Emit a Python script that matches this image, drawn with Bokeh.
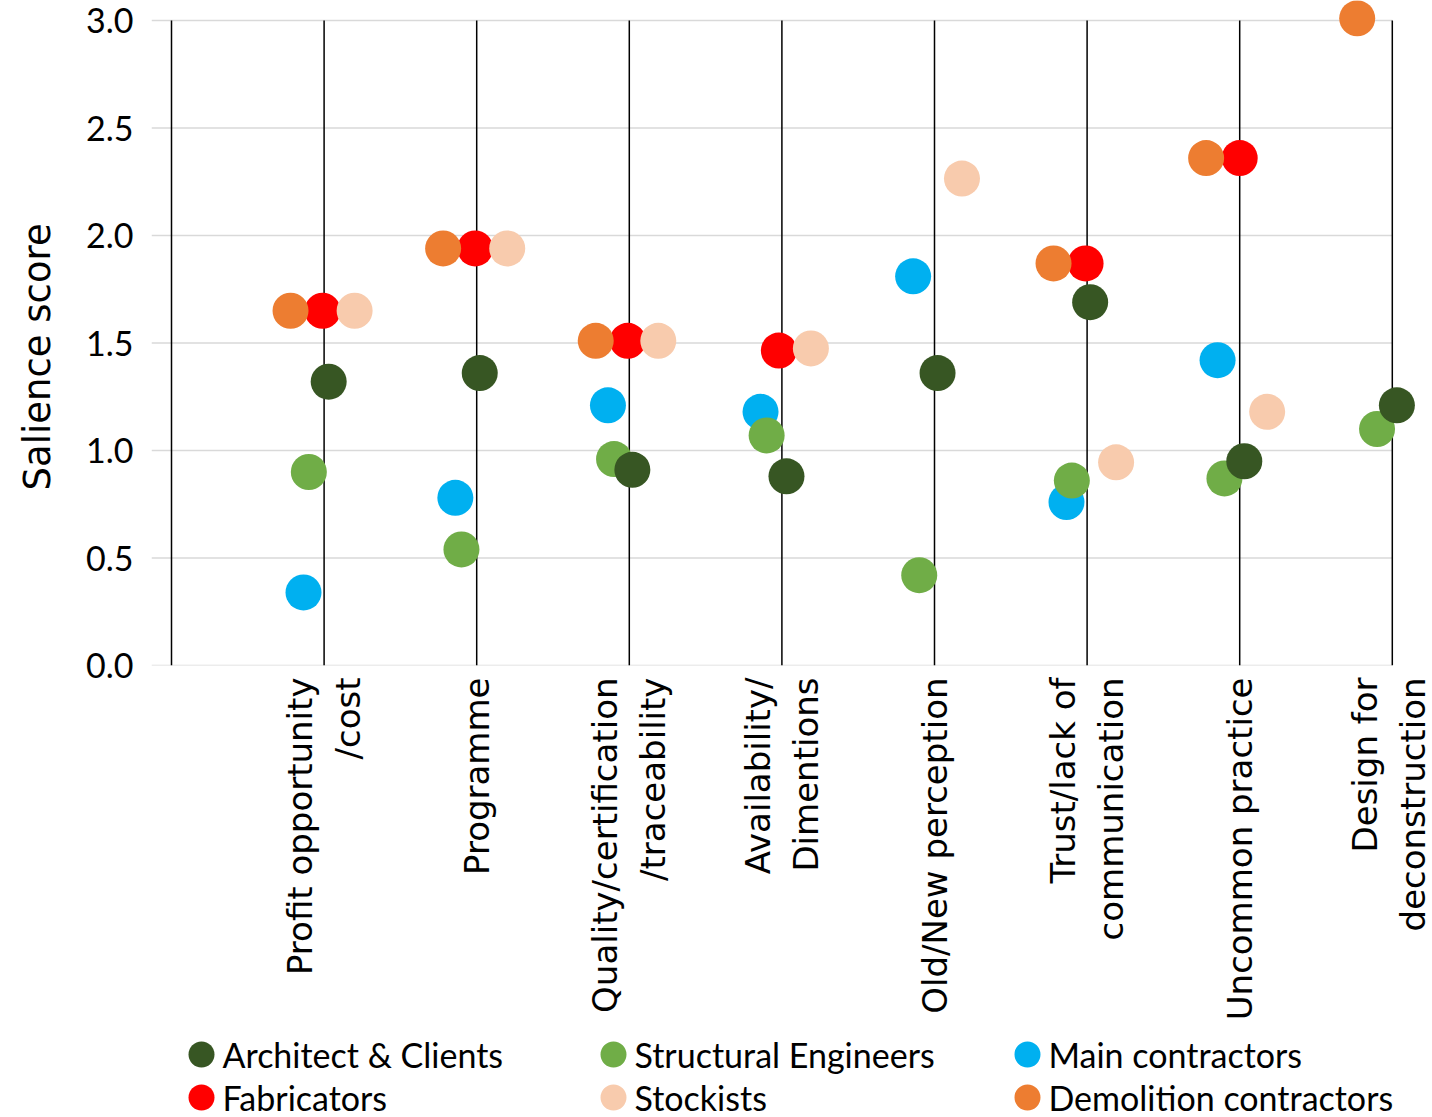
import math
from bokeh.plotting import figure
from bokeh.models import Range1d, FixedTicker, NumeralTickFormatter, ColumnDataSource
from bokeh.layouts import column, row
from bokeh.core.properties import value
from bokeh.embed import file_html
from bokeh.resources import INLINE

# ---------------- data ----------------
categories = [
    "Profit opportunity\n/cost",
    "Programme",
    "Quality/certification\n/traceability",
    "Availability/\nDimentions",
    "Old/New perception",
    "Trust/lack of\ncommunication",
    "Uncommon practice",
    "Design for\ndeconstruction",
]
category_pos = [1, 2, 3, 4, 5, 6, 7, 8]
divider_pos = [0, 1, 2, 3, 4, 5, 6, 7, 8]
y_ticks = [0.0, 0.5, 1.0, 1.5, 2.0, 2.5, 3.0]
y_title = "Salience score"

series_names = ["Architect & Clients", "Structural Engineers", "Main contractors",
                "Fabricators", "Stockists", "Demolition contractors"]
series_colors = ["#375623", "#70AD47", "#00B0F0", "#FF0000", "#F8CBAD", "#ED7D31"]

architect_x = [1.03, 2.02, 3.02, 4.03, 5.02, 6.02, 7.03, 8.03]
architect_y = [1.32, 1.36, 0.91, 0.88, 1.36, 1.69, 0.95, 1.21]
structural_x = [0.90, 1.90, 2.90, 3.90, 4.90, 5.90, 6.90, 7.90]
structural_y = [0.90, 0.54, 0.96, 1.07, 0.42, 0.86, 0.87, 1.10]
main_x = [0.865, 1.86, 2.86, 3.86, 4.86, 5.865, 6.855]
main_y = [0.34, 0.78, 1.21, 1.18, 1.81, 0.76, 1.42]
fabricators_x = [0.99, 1.99, 2.99, 3.98, 5.99, 7.00]
fabricators_y = [1.65, 1.94, 1.51, 1.465, 1.87, 2.36]
stockists_x = [1.20, 2.20, 3.19, 4.19, 5.18, 6.19, 7.18]
stockists_y = [1.65, 1.94, 1.51, 1.475, 2.265, 0.945, 1.18]
demolition_x = [0.78, 1.78, 2.78, 5.78, 6.78, 7.77]
demolition_y = [1.65, 1.94, 1.51, 1.87, 2.36, 3.01]

series_x = [architect_x, structural_x, main_x, fabricators_x, stockists_x, demolition_x]
series_y = [architect_y, structural_y, main_y, fabricators_y, stockists_y, demolition_y]
draw_order = [3, 2, 1, 0, 4, 5]

# ---------------- geometry ----------------
px_per_unit = 152.6
title_w = 68
frame_left = 151
frame_w = 1271
frame_h = 665
bottom_h = 365
right_border = 1432 - frame_left - frame_w
x_start = -20 / px_per_unit
x_end = x_start + frame_w / px_per_unit
y_end = 3.0 + 20 / 215.0

# ---------------- title strip (left) ----------------
tf = figure(frame_width=title_w, frame_height=frame_h,
            x_range=Range1d(0, title_w), y_range=Range1d(0, frame_h),
            output_backend="svg", toolbar_location=None,
            min_border_left=0, min_border_right=0, min_border_top=0,
            min_border_bottom=bottom_h)
tf.axis.visible = False
tf.grid.visible = False
tf.outline_line_color = None
tf.text(x=[37], y=[175], text=[y_title], angle=math.pi / 2,
        text_align="left", text_baseline="middle",
        text_font=value("DejaVu Sans"), text_font_size="37px", text_color="black")

# ---------------- main plot ----------------
p = figure(frame_width=frame_w, frame_height=frame_h,
           x_range=Range1d(x_start, x_end), y_range=Range1d(0, y_end),
           output_backend="svg", toolbar_location=None,
           min_border_left=frame_left - title_w, min_border_right=right_border,
           min_border_top=0, min_border_bottom=bottom_h)
p.outline_line_color = None
p.xgrid.visible = False
p.ygrid.visible = False
p.background_fill_color = "white"
p.border_fill_color = "white"

# horizontal grid lines (from tick list) limited to the last divider
p.segment(x0=[x_start] * len(y_ticks), x1=[divider_pos[-1]] * len(y_ticks),
          y0=y_ticks, y1=y_ticks, line_color="#D9D9D9", line_width=1.5)
# vertical divider lines
p.segment(x0=divider_pos, x1=divider_pos, y0=[y_ticks[0]] * len(divider_pos),
          y1=[y_ticks[-1]] * len(divider_pos), line_color="black", line_width=1.5)

for i in draw_order:
    src = ColumnDataSource(dict(x=series_x[i], y=series_y[i]))
    p.scatter("x", "y", source=src, size=36, fill_color=series_colors[i],
              line_color=None)

# x axis
xa = p.xaxis[0]
xa.ticker = FixedTicker(ticks=category_pos)
xa.major_label_overrides = {c: lab for c, lab in zip(category_pos, categories)}
xa.major_label_orientation = math.pi / 2
xa.major_label_text_font = "DejaVu Sans"
xa.major_label_text_font_size = "34px"
xa.major_label_text_color = "black"
xa.major_label_text_line_height = 1.2
xa.major_label_standoff = 6
xa.axis_line_color = None
xa.major_tick_line_color = None
xa.minor_tick_line_color = None

# y axis
ya = p.yaxis[0]
ya.ticker = FixedTicker(ticks=y_ticks)
ya.formatter = NumeralTickFormatter(format="0.0")
ya.major_label_text_font = "Lato"
ya.major_label_text_font_size = "34px"
ya.major_label_text_color = "black"
ya.major_label_standoff = 12
ya.axis_line_color = None
ya.major_tick_line_color = None
ya.minor_tick_line_color = None

# ---------------- legend strip ----------------
leg_h = 87
lg = figure(frame_width=frame_w, frame_height=leg_h,
            x_range=Range1d(frame_left, frame_left + frame_w), y_range=Range1d(leg_h, 0),
            output_backend="svg", toolbar_location=None,
            min_border_left=frame_left, min_border_right=right_border,
            min_border_top=0, min_border_bottom=0)
lg.axis.visible = False
lg.grid.visible = False
lg.outline_line_color = None

col_marker_x = [201, 613, 1027]
row_y = [24, 67]
mx, my, tx = [], [], []
for k in range(len(series_names)):
    r, c = divmod(k, 3)
    mx.append(col_marker_x[c])
    my.append(row_y[r])
    tx.append(col_marker_x[c] + 21)
lg.scatter(mx, my, size=26, fill_color=series_colors, line_color=None)
lg.text(x=tx, y=my, text=series_names, text_font=value("Lato"),
        text_font_size="34px", text_baseline="middle", text_align="left",
        text_color="black")

layout = column(row(tf, p, spacing=0), lg, spacing=0)
open("out.html", "w").write(file_html(layout, INLINE))
